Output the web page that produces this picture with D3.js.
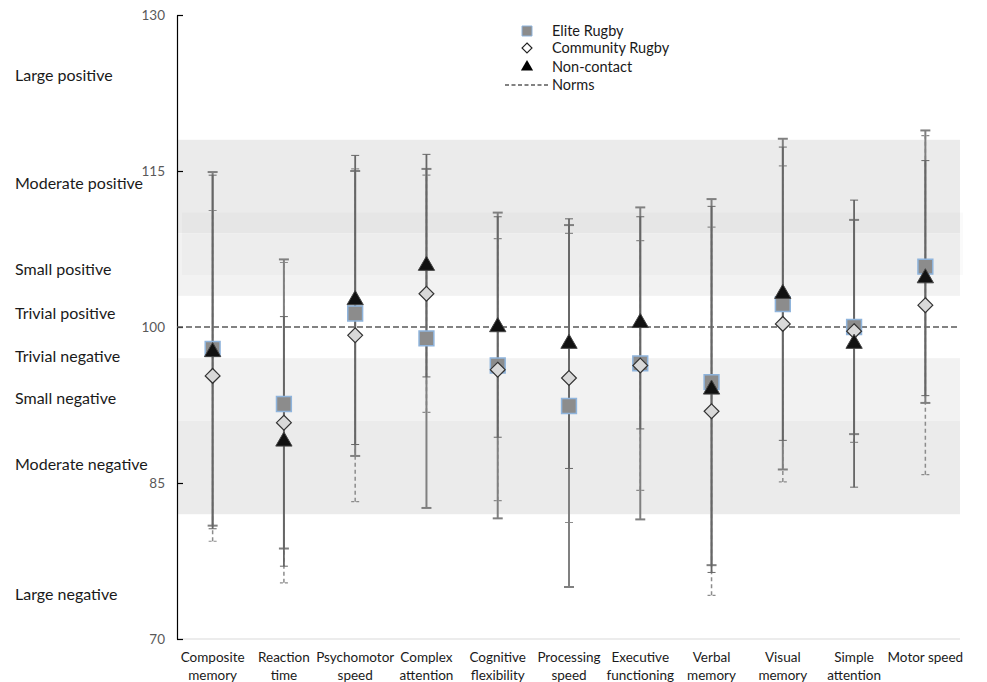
<!DOCTYPE html>
<html>
<head>
<meta charset="utf-8">
<script src="https://cdn.jsdelivr.net/npm/d3@7"></script>
<style>
  body { margin: 0; background: #fff; }
  svg { display: block; font-family: Lato, "Open Sans", sans-serif; }
</style>
</head>
<body>
<svg id="chart" width="987" height="682"></svg>
<script>
const categories = [
  ["Composite", "memory"], ["Reaction", "time"], ["Psychomotor", "speed"],
  ["Complex", "attention"], ["Cognitive", "flexibility"], ["Processing", "speed"],
  ["Executive", "functioning"], ["Verbal", "memory"], ["Visual", "memory"],
  ["Simple", "attention"], ["Motor speed"]
];
const eliteMean      = [97.9, 92.6, 101.3, 98.9, 96.3, 92.4, 96.5, 94.7, 102.2, 100.0, 105.8];
const eliteErr       = [17.0, 13.9, 13.7, 16.3, 14.7, 17.4, 15.0, 17.6, 15.9, 10.3, 13.1];
const communityMean  = [95.3, 90.8, 99.2, 103.2, 95.9, 95.1, 96.3, 91.9, 100.3, 99.6, 102.1];
const communityErr   = [15.9, 15.4, 16.0, 11.4, 12.6, 13.9, 12.0, 17.7, 15.2, 10.7, 16.3];
const noncontactMean = [97.6, 89.0, 102.6, 105.9, 100.0, 98.4, 100.4, 94.0, 103.2, 98.4, 104.7];
const noncontactErr  = [17.0, 12.0, 13.9, 10.7, 10.6, 12.0, 10.2, 17.6, 14.1, 13.8, 11.3];
const normValue = 100;
const yTicks = [70, 85, 100, 115, 130];
// effect-size bands
const bandLows  = [109, 103, 91, 82];
const bandHighs = [118, 109, 97, 91];
const bandKinds = ["moderate", "small", "small", "moderate"];
const overlayBand = [105, 111];
const zoneLabels = ["Large positive", "Moderate positive", "Small positive", "Trivial positive",
                    "Trivial negative", "Small negative", "Moderate negative", "Large negative"];
const zoneLabelValues = [124.2, 113.85, 105.5, 101.35, 97.2, 93.1, 86.8, 74.3];
const legendNames = ["Elite Rugby", "Community Rugby", "Non-contact", "Norms"];

const svg = d3.select("#chart");
const pL = 177, pR = 960, pT = 15, pB = 639;

const y = d3.scaleLinear().domain([70, 130]).range([pB, pT]);
const x = d3.scaleBand().domain(d3.range(categories.length)).range([177, 961]).paddingInner(0).paddingOuter(0);
const cx = i => x(i) + x.bandwidth() / 2;

// bands
const bandFill = { moderate: "#ebebeb", small: "#f2f2f2" };
svg.append("g").selectAll("rect").data(bandLows).join("rect")
  .attr("x", pL).attr("width", pR - pL)
  .attr("y", (d, i) => y(bandHighs[i]))
  .attr("height", (d, i) => y(d) - y(bandHighs[i]))
  .attr("fill", (d, i) => bandFill[bandKinds[i]]);
svg.append("rect")
  .attr("x", pL + 5).attr("width", pR - pL - 2)
  .attr("y", y(overlayBand[1])).attr("height", y(overlayBand[0]) - y(overlayBand[1]))
  .attr("fill", "#000").attr("fill-opacity", 0.02);

// x baseline
svg.append("line").attr("x1", pL).attr("x2", pR)
  .attr("y1", y(70)).attr("y2", y(70)).attr("stroke", "#d9d9d9").attr("stroke-width", 1);

// y axis
const yAxis = d3.axisLeft(y).tickValues(yTicks).tickSizeInner(-6).tickSizeOuter(0).tickPadding(12);
const ga = svg.append("g").attr("transform", `translate(${pL},0)`).call(yAxis);
ga.select(".domain").attr("stroke", "#000").attr("stroke-width", 1.2);
ga.selectAll(".tick line").attr("stroke", "#000").attr("stroke-width", 1.2);
ga.selectAll(".tick text").attr("font-size", 13.5).attr("fill", "#595959").attr("font-family", "Lato, sans-serif");

// zone labels
svg.append("g").selectAll("text").data(zoneLabels).join("text")
  .attr("x", 15).attr("y", (d, i) => y(zoneLabelValues[i]))
  .attr("dy", "0.35em").attr("font-size", 16).attr("fill", "#1a1a1a").text(d => d);

// norm line
svg.append("line").attr("x1", pL).attr("x2", pR)
  .attr("y1", y(normValue)).attr("y2", y(normValue))
  .attr("stroke", "#595959").attr("stroke-width", 1.5).attr("stroke-dasharray", "6,3");

// error bars
function errorBars(means, errs, stroke, width, dash, capW, capStroke) {
  const g = svg.append("g");
  means.forEach((m, i) => {
    const lo = m - errs[i], hi = m + errs[i];
    g.append("line").attr("x1", cx(i)).attr("x2", cx(i)).attr("y1", y(lo)).attr("y2", y(hi))
      .attr("stroke", stroke).attr("stroke-width", width).attr("stroke-dasharray", dash);
    [lo, hi].forEach(v => {
      g.append("line").attr("x1", cx(i) - capW / 2).attr("x2", cx(i) + capW / 2)
        .attr("y1", y(v)).attr("y2", y(v))
        .attr("stroke", stroke).attr("stroke-width", capStroke).attr("stroke-dasharray", dash ? "3,2" : null);
    });
  });
}
errorBars(communityMean, communityErr, "#8c8c8c", 1.5, "4,3", 8, 1.2);
errorBars(eliteMean, eliteErr, "#808080", 2, null, 10, 2);
errorBars(noncontactMean, noncontactErr, "#666666", 1.8, null, 8, 1);

// markers
const sq = d3.symbol().type(d3.symbolSquare).size(220);
const dia = d3.symbol().type(d3.symbolDiamond2).size(140);
const tri = d3.symbol().type(d3.symbolTriangle).size(115);

svg.append("g").selectAll("path").data(eliteMean).join("path")
  .attr("d", sq).attr("transform", (d, i) => `translate(${cx(i)},${y(d)})`)
  .attr("fill", "#8c8c8c").attr("stroke", "#8fb4dc").attr("stroke-width", 1.5);
svg.append("g").selectAll("path").data(communityMean).join("path")
  .attr("d", dia).attr("transform", (d, i) => `translate(${cx(i)},${y(d)})`)
  .attr("fill", "#d9d9d9").attr("stroke", "#333").attr("stroke-width", 1.2);
svg.append("g").selectAll("path").data(noncontactMean).join("path")
  .attr("d", tri).attr("transform", (d, i) => `translate(${cx(i)},${y(d)})`)
  .attr("fill", "#111").attr("stroke", "#444").attr("stroke-width", 1);

// x labels
const xl = svg.append("g").selectAll("text").data(categories).join("text")
  .attr("x", (d, i) => cx(i)).attr("y", 662).attr("text-anchor", "middle")
  .attr("font-size", 13.5).attr("fill", "#1a1a1a");
xl.selectAll("tspan").data(d => d).join("tspan")
  .attr("x", function () { return d3.select(this.parentNode).attr("x"); })
  .attr("dy", (d, j) => j === 0 ? 0 : 18).text(d => d);

// legend
const lg = svg.append("g");
const lx = 527, ly = [31, 48, 67, 85];
lg.append("path").attr("d", d3.symbol().type(d3.symbolSquare).size(100)).attr("transform", `translate(${lx},${ly[0]})`)
  .attr("fill", "#8c8c8c").attr("stroke", "#8fb4dc").attr("stroke-width", 1);
lg.append("path").attr("d", d3.symbol().type(d3.symbolDiamond2).size(64)).attr("transform", `translate(${lx},${ly[1]})`)
  .attr("fill", "#fff").attr("stroke", "#222").attr("stroke-width", 1.1);
lg.append("path").attr("d", d3.symbol().type(d3.symbolTriangle).size(64)).attr("transform", `translate(${lx},${ly[2]})`)
  .attr("fill", "#000");
lg.append("line").attr("x1", 505).attr("x2", 548).attr("y1", ly[3]).attr("y2", ly[3])
  .attr("stroke", "#595959").attr("stroke-width", 1.3).attr("stroke-dasharray", "4,2.5");
lg.selectAll("text").data(legendNames).join("text")
  .attr("x", 552).attr("y", (d, i) => ly[i]).attr("dy", "0.35em")
  .attr("font-size", 14.5).attr("fill", "#1a1a1a").text(d => d);
</script>
</body>
</html>
